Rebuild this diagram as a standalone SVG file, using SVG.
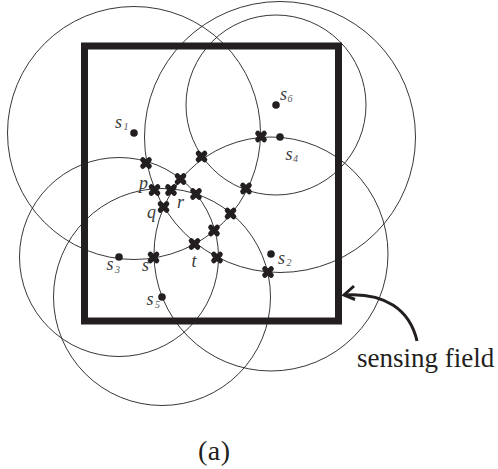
<svg xmlns="http://www.w3.org/2000/svg" xmlns:xlink="http://www.w3.org/1999/xlink" width="498" height="469" viewBox="0 0 498 469">
<style>
.range{fill:none;stroke:#231f20;stroke-width:0.9}
.dot{fill:#231f20}
.lbl{font-family:"Liberation Serif","Times New Roman",serif;font-style:italic;font-size:18px;fill:#3a3a3a}
.sub{font-family:"Liberation Serif","Times New Roman",serif;font-style:italic;font-size:10px;fill:#555}
.txt{font-family:"Liberation Serif","Times New Roman",serif;fill:#231f20}
.field{fill:none;stroke:#231f20;stroke-width:7}
.conn{fill:none;stroke:#231f20;stroke-width:3}
</style>
<defs>
<g id="cross"><path d="M-3.2,-3.2L3.2,3.2M-3.2,3.2L3.2,-3.2" stroke="#231f20" stroke-width="5.2" stroke-linecap="round" fill="none"/></g>
</defs>
<rect id="field" class="field" x="84.5" y="46" width="254" height="275"/>
<g id="ranges">
<circle class="range" cx="134" cy="133" r="126.5"/>
<circle class="range" cx="271" cy="254" r="117"/>
<circle class="range" cx="119" cy="257" r="99.5"/>
<circle class="range" cx="280" cy="137" r="135.5"/>
<circle class="range" cx="162" cy="297" r="108.5"/>
<circle class="range" cx="276" cy="105" r="90"/>
</g>
<g id="s1"><circle class="dot" cx="134" cy="133" r="3.8"/><text class="lbl" x="115" y="128">s</text><text class="sub" x="123.5" y="130">1</text></g>
<g id="s2"><circle class="dot" cx="271" cy="254" r="3.8"/><text class="lbl" x="278" y="264">s</text><text class="sub" x="286.5" y="266">2</text></g>
<g id="s3"><circle class="dot" cx="119" cy="257" r="3.8"/><text class="lbl" x="106.5" y="270">s</text><text class="sub" x="115" y="273">3</text></g>
<g id="s4"><circle class="dot" cx="280" cy="137" r="3.8"/><text class="lbl" x="285.5" y="160">s</text><text class="sub" x="293" y="162">4</text></g>
<g id="s5"><circle class="dot" cx="162" cy="297" r="3.8"/><text class="lbl" x="146.5" y="305">s</text><text class="sub" x="155" y="308">5</text></g>
<g id="s6"><circle class="dot" cx="276" cy="105" r="3.8"/><text class="lbl" x="280" y="100">s</text><text class="sub" x="287.5" y="102">6</text></g>
<g id="points">
<g id="x1"><use xlink:href="#cross" href="#cross" x="146" y="163"/></g>
<g id="x2"><use xlink:href="#cross" href="#cross" x="201.5" y="156.5"/></g>
<g id="x3"><use xlink:href="#cross" href="#cross" x="180.5" y="179"/></g>
<g id="p"><use xlink:href="#cross" href="#cross" x="154.5" y="190"/><text class="lbl" x="139" y="189">p</text></g>
<g id="x5"><use xlink:href="#cross" href="#cross" x="171" y="190"/></g>
<g id="x6"><use xlink:href="#cross" href="#cross" x="196" y="194"/></g>
<g id="q"><use xlink:href="#cross" href="#cross" x="163.5" y="207"/><text class="lbl" x="147" y="217.5">q</text></g>
<g id="r"><text class="lbl" x="177" y="207.5">r</text></g>
<g id="x8"><use xlink:href="#cross" href="#cross" x="246" y="188.5"/></g>
<g id="x9"><use xlink:href="#cross" href="#cross" x="230.5" y="213.5"/></g>
<g id="x10"><use xlink:href="#cross" href="#cross" x="214" y="230.5"/></g>
<g id="t"><use xlink:href="#cross" href="#cross" x="194.5" y="244"/><text class="lbl" x="191.5" y="267">t</text></g>
<g id="x12"><use xlink:href="#cross" href="#cross" x="217" y="257.5"/></g>
<g id="s"><use xlink:href="#cross" href="#cross" x="153.5" y="257.5"/><text class="lbl" x="142" y="270.5">s</text></g>
<g id="x14"><use xlink:href="#cross" href="#cross" x="268" y="272"/></g>
<g id="x15"><use xlink:href="#cross" href="#cross" x="261" y="136.5"/></g>
</g>
<g id="connectors">
<path class="conn" d="M417,341 C410,310 385,292 344,295"/>
<polyline class="conn" points="354,286 344,295 355,299.5"/>
</g>
<text class="txt" x="357" y="367" font-size="27">sensing field</text>
<text class="txt" x="198" y="460" font-size="28" letter-spacing="0.5">(a)</text>
</svg>
